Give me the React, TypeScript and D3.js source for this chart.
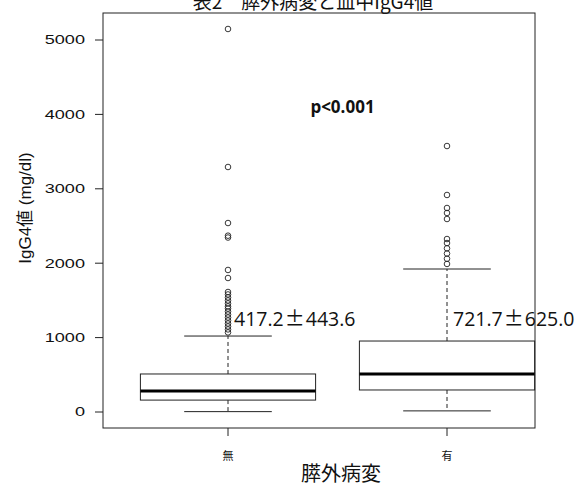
import React from 'react'
import * as d3 from 'd3'

// data
const categories = ['無', '有']
const lowerWhisker = [5, 15]
const q1 = [160, 296]
const medians = [282, 511]
const q3 = [511, 954]
const upperWhisker = [1021, 1922]
const outliers1 = [5148, 3293, 2540, 2370, 2345, 1909, 1801, 1613, 1580, 1540, 1500, 1460, 1420, 1390, 1350, 1310, 1270, 1230, 1190, 1150, 1110, 1070]
const outliers2 = [3575, 2917, 2742, 2675, 2594, 2325, 2271, 2200, 2130, 2060, 1990]
const means = ['417.2', '721.7']
const sds = ['443.6', '625.0']
const yTicks = [0, 1000, 2000, 3000, 4000, 5000]

export default function App() {
  const W = 575, H = 487
  const frame = { left: 103, right: 535, top: 13, bottom: 428 }
  const x = d3.scaleLinear().domain([1, 2]).range([228, 447])
  const y = d3.scaleLinear().domain([0, 5000]).range([412, 40])
  const halfBox = 0.4
  const halfCap = 0.2
  const outliers = [outliers1, outliers2]
  const ink = '#222'

  return (
    <svg width={W} height={H} style={{ position: 'absolute', left: 0, top: 0, background: 'white' }}>
      {/* title, cut at the top like the scan */}
      <text x={313} y={9} textAnchor="middle" fontSize={19}
        fontFamily='"Noto Sans CJK JP", sans-serif' fill="#111">表2　膵外病変と血中IgG4値</text>

      <rect x={frame.left} y={frame.top} width={frame.right - frame.left} height={frame.bottom - frame.top}
        fill="none" stroke={ink} strokeWidth={1} />

      {/* y axis (labels look stretched sideways in the scan) */}
      {yTicks.map(t => (
        <g key={t}>
          <line x1={frame.left - 8} x2={frame.left} y1={y(t)} y2={y(t)} stroke={ink} />
          <text transform={`translate(${frame.left - 18},${y(t)}) scale(1.45,1)`} dy="0.35em" textAnchor="end" fontSize={12.5}
            fontFamily='"Liberation Sans", Arial, sans-serif' fill="#111">{t}</text>
        </g>
      ))}
      <text transform={`translate(31,208) rotate(-90)`} textAnchor="middle" fontSize={17}
        fontFamily='"Liberation Sans", "Noto Sans CJK JP", sans-serif' fill="#111">IgG4値 (mg/dl)</text>

      {/* x axis */}
      {categories.map((c, i) => (
        <g key={c}>
          <line x1={x(i + 1)} x2={x(i + 1)} y1={frame.bottom} y2={frame.bottom + 8} stroke={ink} />
          <text x={x(i + 1)} y={460} textAnchor="middle" fontSize={11}
            fontFamily='"Noto Sans CJK JP", sans-serif' fill="#111">{c}</text>
        </g>
      ))}
      <text x={341} y={481} textAnchor="middle" fontSize={20}
        fontFamily='"Noto Sans CJK JP", sans-serif' fill="#111">膵外病変</text>

      {/* boxes */}
      {categories.map((c, i) => {
        const cx = x(i + 1)
        const bx0 = x(i + 1 - halfBox), bx1 = x(i + 1 + halfBox)
        const cx0 = x(i + 1 - halfCap), cx1 = x(i + 1 + halfCap)
        return (
          <g key={'box' + c}>
            <line x1={cx} x2={cx} y1={y(q3[i])} y2={y(upperWhisker[i])} stroke={ink} strokeDasharray="4,3" />
            <line x1={cx} x2={cx} y1={y(q1[i])} y2={y(lowerWhisker[i])} stroke={ink} strokeDasharray="4,3" />
            <line x1={cx0} x2={cx1} y1={y(upperWhisker[i])} y2={y(upperWhisker[i])} stroke={ink} />
            <line x1={cx0} x2={cx1} y1={y(lowerWhisker[i])} y2={y(lowerWhisker[i])} stroke={ink} />
            <rect x={bx0} y={y(q3[i])} width={bx1 - bx0} height={y(q1[i]) - y(q3[i])}
              fill="white" stroke={ink} />
            <line x1={bx0} x2={bx1} y1={y(medians[i])} y2={y(medians[i])} stroke="#000" strokeWidth={3} />
            {outliers[i].map((v, j) => (
              <circle key={j} cx={cx} cy={y(v)} r={2.8} fill="none" stroke={ink} strokeWidth={0.9} />
            ))}
          </g>
        )
      })}

      {/* mean ± SD annotations */}
      {means.map((m, i) => (
        <text key={m} x={x(i + 1) + 6} y={326} fontSize={19.5}
          fontFamily='"Open Sans", sans-serif' fill="#111">
          {m}
          <tspan dx={1} fontFamily='"Noto Sans CJK JP", sans-serif' fontSize={20}>±</tspan>
          <tspan dx={1}>{sds[i]}</tspan>
        </text>
      ))}
      <text x={342.5} y={113} textAnchor="middle" fontSize={17} fontWeight="bold"
        fontFamily='"Open Sans", "Liberation Sans", sans-serif' fill="#111">p&lt;0.001</text>
    </svg>
  )
}
